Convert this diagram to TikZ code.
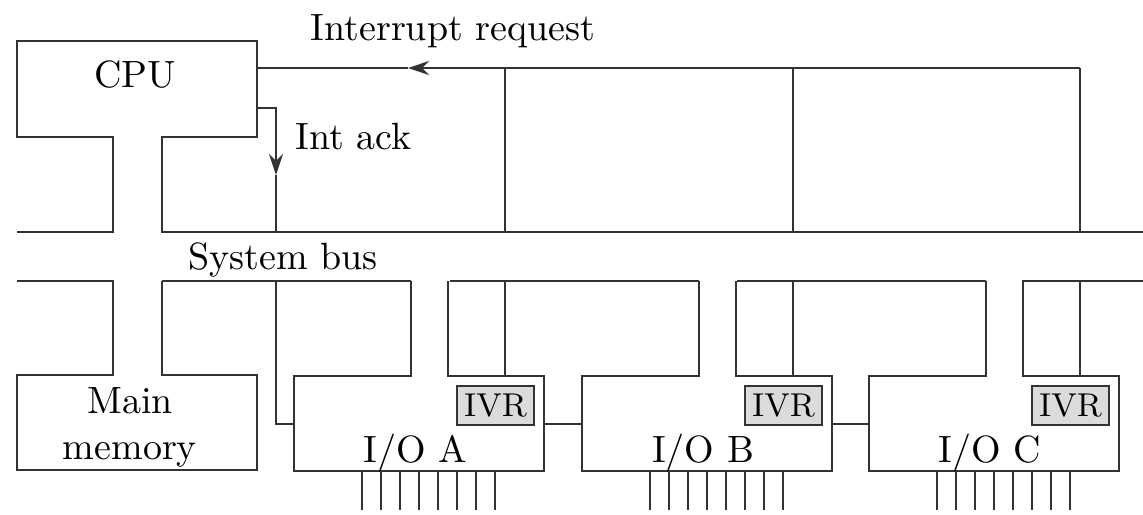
\documentclass[tikz,border=0pt]{standalone}
\usepackage{tikz}
\usetikzlibrary{
    arrows.meta,
    positioning,
    calc
}
\tikzset{
    wire/.style={line width=0.6pt, draw=black!80},
    sig/.style={-{Stealth[length=6pt, width=4pt, inset=2pt]}, line width=0.6pt, draw=black!80},
    lbl/.style={font=\fontsize{10.8}{13}\selectfont, inner sep=0pt, align=center},
    ivrbox/.style={
        rectangle, draw=black!80, line width=0.6pt, fill=black!14,
        minimum width=0.77cm, minimum height=0.39cm, inner sep=0pt,
        font=\fontsize{9.4}{11}\selectfont
    },
}

\begin{document}
\begin{tikzpicture}[x=0.01cm, y=-0.01cm]
    \useasboundingbox (0,0) rectangle (1143,514);

    % CPU and upper side of the system bus
    \draw [wire] (17,232) -| (113,137) -| (17,41) -| (257,137) -| (162,232) -- (1143,232);
    \node [lbl, anchor=base] (cpu) at (135,87) {CPU};
    \coordinate (cpuirq) at (257,68);
    \coordinate (cpuack) at (257,108);

    % main memory and lower side of the system bus
    \draw [wire] (17,281) -| (113,375) -| (17,470) -| (257,375) -| (162,281);
    \node [lbl, anchor=north] (mem) at (130,387) {Main\\memory};

    \node [lbl, anchor=base west] (buslbl) at (188,269) {System bus};

    % I/O modules
    \foreach \nm/\x/\t in {ioa/294/A, iob/582/B, ioc/869/C} {
        \begin{scope}[shift={(\x,0)}]
            \draw [wire] (-132,281) -- (117,281);
            \draw [wire] (117,281) |- (0,376) |- (250,471) |- (154,376) -- (154,281);
            \node [ivrbox, anchor=north east] (\nm-ivr) at (241,385) {IVR};
            \node [lbl, anchor=base] (\nm) at (121,462) {I/O \t};
            \coordinate (\nm-w) at (0,424);
            \coordinate (\nm-e) at (250,424);
            \coordinate (\nm-n) at (211,376);
            \coordinate (\nm-up) at (211,68);
            \draw [wire] (\nm-up) -- (211,232);
            \draw [wire] (211,281) -- (\nm-n);
            \foreach \k in {0,...,7}
                \draw [wire] (68+19*\k,471) -- (68+19*\k,510);
        \end{scope}
    }
    \draw [wire] (1022,281) -- (1143,281);

    % interrupt request line
    \coordinate (irqtip) at (408,68);
    \draw [sig] (ioc-up) -- (irqtip);
    \draw [wire] (irqtip) -- (cpuirq);
    \node [lbl, anchor=base west] (irqlbl) at (310,40) {Interrupt request};

    % interrupt acknowledge daisy chain
    \coordinate (acktip) at (276,175);
    \draw [sig] (cpuack) -| (acktip);
    \draw [wire] (acktip) -- (276,232);
    \draw [wire] (276,281) |- (ioa-w);
    \draw [wire] (ioa-e) -- (iob-w);
    \draw [wire] (iob-e) -- (ioc-w);
    \node [lbl, anchor=base west] (acklbl) at (295,149) {Int ack};

\end{tikzpicture}
\end{document}
